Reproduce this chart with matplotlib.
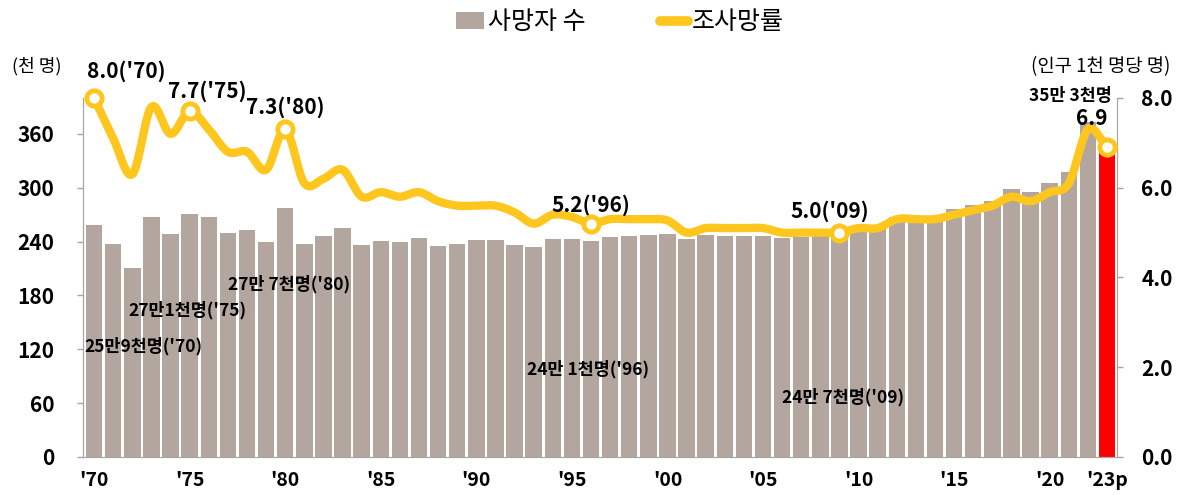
import numpy as np
import matplotlib
matplotlib.use("Agg")
import matplotlib.pyplot as plt
from matplotlib.patches import Patch
from matplotlib.lines import Line2D

plt.rcParams['font.family'] = ['Noto Sans CJK KR', 'DejaVu Sans']

years = list(range(1970, 2024))
# 사망자 수 (천 명)
deaths = [258.6, 237.5, 210.1, 267.5, 248.8, 270.7, 266.9, 249.3, 252.8, 239.8,
          277.3, 237.5, 245.8, 254.6, 236.4, 240.4, 239.3, 243.5, 235.6, 236.8,
          241.6, 242.3, 236.2, 234.3, 242.4, 242.8, 241.1, 244.7, 245.8, 247.5,
          248.7, 243.0, 247.2, 246.5, 246.2, 245.9, 244.2, 245.0, 246.1, 246.9,
          255.4, 257.4, 267.2, 266.3, 267.7, 275.9, 280.8, 285.5, 298.8, 295.1,
          304.9, 317.7, 372.9, 352.5]
# 조사망률 (인구 1천 명당)
rate = [8.0, 7.1, 6.3, 7.8, 7.2, 7.7, 7.3, 6.8, 6.8, 6.4,
        7.3, 6.1, 6.2, 6.4, 5.8, 5.9, 5.8, 5.9, 5.7, 5.6,
        5.6, 5.6, 5.45, 5.2, 5.4, 5.35, 5.2, 5.3, 5.3, 5.3,
        5.27, 5.0, 5.1, 5.1, 5.1, 5.1, 5.0, 5.0, 5.0, 5.0,
        5.1, 5.1, 5.3, 5.3, 5.3, 5.4, 5.5, 5.6, 5.8, 5.7,
        5.9, 6.1, 7.3, 6.9]
tick_years = [1970, 1975, 1980, 1985, 1990, 1995, 2000, 2005, 2010, 2015, 2020, 2023]
tick_labels = ["'70", "'75", "'80", "'85", "'90", "'95", "'00", "'05", "'10", "'15", "'20", "'23p"]
marked = [1970, 1975, 1980, 1996, 2009, 2023]
rate_notes = {1970: "8.0('70)", 1975: "7.7('75)", 1980: "7.3('80)",
              1996: "5.2('96)", 2009: "5.0('09)", 2023: "6.9"}
bar_notes = {1970: "25만9천명('70)", 1975: "27만1천명('75)", 1980: "27만 7천명('80)",
             1996: "24만 1천명('96)", 2009: "24만 7천명('09)", 2023: "35만 3천명"}

BAR = '#b3a69f'
GOLD = '#ffc61e'


def smooth(x, y, n=20):
    # Catmull-Rom curve through the points (like Excel smoothed line)
    x = np.asarray(x, float); y = np.asarray(y, float)
    px = np.concatenate([[2 * x[0] - x[1]], x, [2 * x[-1] - x[-2]]])
    py = np.concatenate([[2 * y[0] - y[1]], y, [2 * y[-1] - y[-2]]])
    t = np.linspace(0, 1, n, endpoint=False)
    xs, ys = [], []
    for i in range(1, len(px) - 2):
        for arr, out in ((px, xs), (py, ys)):
            p0, p1, p2, p3 = arr[i - 1], arr[i], arr[i + 1], arr[i + 2]
            out.extend(0.5 * (2 * p1 + (-p0 + p2) * t + (2 * p0 - 5 * p1 + 4 * p2 - p3) * t ** 2
                              + (-p0 + 3 * p1 - 3 * p2 + p3) * t ** 3))
    xs.append(x[-1]); ys.append(y[-1])
    return np.array(xs), np.array(ys)


fig = plt.figure(figsize=(11.81, 4.95), dpi=100)
ax = fig.add_axes([0.0703, 0.0768, 0.8755, 0.7253])
ax2 = ax.twinx()

colors = [BAR] * (len(years) - 1) + ['#ff0000']
idx = np.arange(len(years))
ax.bar(idx, deaths, width=0.86, color=colors, zorder=2)
ax.set_ylim(0, 400)
ax.set_yticks(range(0, 361, 60))
ax.set_xlim(-0.58, len(years) - 0.48)
ax.set_xticks([years.index(y) for y in tick_years])
ax.set_xticklabels(tick_labels)

sx, sy = smooth(idx, rate)
ax2.plot(sx, sy, color=GOLD, lw=6, solid_capstyle='round', zorder=3, clip_on=False)
mi = [years.index(y) for y in marked]
ax2.plot(mi, [rate[i] for i in mi], 'o', ms=11, mfc='white', mec=GOLD, mew=3.5, zorder=4,
         clip_on=False)
ax2.set_ylim(0, 8)
ax2.set_yticks([0, 2, 4, 6, 8])
ax2.set_yticklabels([f"{v:.1f}" for v in [0, 2, 4, 6, 8]])

for a in (ax, ax2):
    a.spines['top'].set_visible(False)
    for s in ('left', 'right', 'bottom'):
        a.spines[s].set_color('#a6a6a6')
    a.tick_params(axis='y', colors='#a6a6a6', labelcolor='black', length=4.5, labelsize=15, width=1)
    for lab in a.get_yticklabels():
        lab.set_fontweight('bold')
ax.tick_params(axis='x', length=0, labelsize=14, pad=10)
for lab in ax.get_xticklabels():
    lab.set_fontweight('bold')
ax.tick_params(axis='y', pad=16)
ax2.tick_params(axis='y', pad=13)
ax.set_zorder(1)
ax2.set_zorder(2)
ax.patch.set_visible(False)

# rate notes
rate_off = {1970: (1.7, 0.6), 1975: (0.9, 0.45), 1980: (0.0, 0.5),
            1996: (0.0, 0.42), 2009: (-0.5, 0.47), 2023: (-0.8, 0.65)}
for y, txt in rate_notes.items():
    i = years.index(y)
    dx, dy = rate_off[y]
    ax2.text(i + dx, rate[i] + dy, txt, ha='center', va='center', fontsize=15, fontweight='bold')

bar_pos = {1970: (2.6, 123), 1975: (-0.1, 163), 1980: (0.2, 192),
           1996: (-0.15, 98), 2009: (0.2, 67), 2023: (-1.9, 402)}
for y, txt in bar_notes.items():
    bx, by = bar_pos[y]
    ax.text(years.index(y) + bx, by, txt, ha='center', va='center', fontsize=12.5,
            fontweight='bold', clip_on=False)

fig.text(0.031, 0.866, "(천 명)", ha='center', va='center', fontsize=13)
fig.text(0.932, 0.866, "(인구 1천 명당 명)", ha='center', va='center', fontsize=13.5)

handles = [Patch(facecolor=BAR, edgecolor='none'),
           Line2D([0], [0], color=GOLD, lw=7, solid_capstyle='round')]
fig.legend(handles, ["사망자 수", "조사망률"], loc='center', bbox_to_anchor=(0.525, 0.955),
           ncol=2, frameon=False, fontsize=18, handlelength=1.1, handletextpad=0.15,
           columnspacing=3.0)

fig.savefig("out.png", dpi=100)
